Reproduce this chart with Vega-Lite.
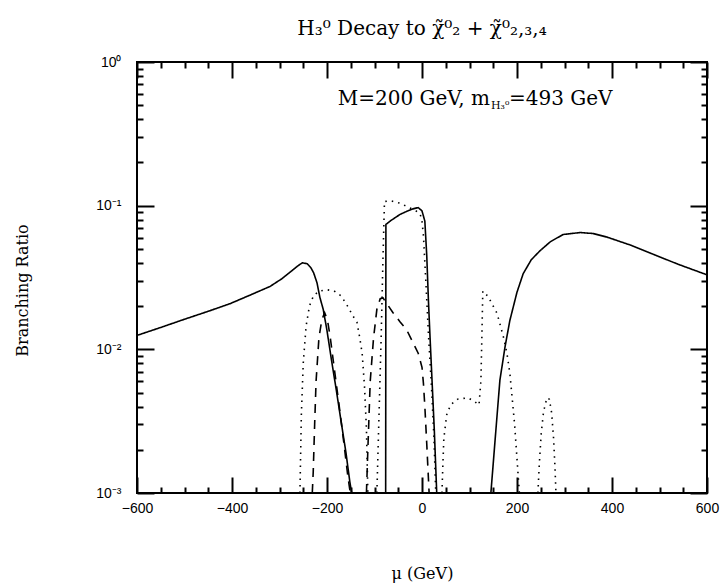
{
  "$schema": "https://vega.github.io/schema/vega-lite/v6.json",
  "width": 570,
  "height": 431,
  "autosize": {"type": "none"},
  "padding": {"left": 137, "top": 62, "right": 20, "bottom": 92},
  "background": "white",
  "config": {
    "view": {"stroke": "black", "strokeWidth": 2},
    "axis": {"domain": false, "grid": false, "ticks": true, "tickColor": "black", "tickWidth": 2, "labelColor": "black", "titleColor": "black"}
  },
  "title": {
    "text": "H₃⁰ Decay to χ̃⁰₂ + χ̃⁰₂,₃,₄",
    "font": "DejaVu Serif",
    "fontSize": 20,
    "fontWeight": "normal",
    "anchor": "middle",
    "offset": 16,
    "color": "black"
  },
  "datasets": {
    "curves": [
      {"channel": "A", "branch": "A1", "mu": -600, "br": 0.0125},
      {"channel": "A", "branch": "A1", "mu": -550, "br": 0.0142},
      {"channel": "A", "branch": "A1", "mu": -500, "br": 0.0162},
      {"channel": "A", "branch": "A1", "mu": -450, "br": 0.0184},
      {"channel": "A", "branch": "A1", "mu": -404, "br": 0.0208},
      {"channel": "A", "branch": "A1", "mu": -360, "br": 0.024},
      {"channel": "A", "branch": "A1", "mu": -320, "br": 0.0274},
      {"channel": "A", "branch": "A1", "mu": -295, "br": 0.031},
      {"channel": "A", "branch": "A1", "mu": -275, "br": 0.035},
      {"channel": "A", "branch": "A1", "mu": -262, "br": 0.038},
      {"channel": "A", "branch": "A1", "mu": -252, "br": 0.04},
      {"channel": "A", "branch": "A1", "mu": -242, "br": 0.0395},
      {"channel": "A", "branch": "A1", "mu": -234, "br": 0.037},
      {"channel": "A", "branch": "A1", "mu": -228, "br": 0.034},
      {"channel": "A", "branch": "A1", "mu": -221, "br": 0.029},
      {"channel": "A", "branch": "A1", "mu": -215, "br": 0.023},
      {"channel": "A", "branch": "A1", "mu": -208, "br": 0.019},
      {"channel": "A", "branch": "A1", "mu": -200, "br": 0.0135},
      {"channel": "A", "branch": "A1", "mu": -190, "br": 0.0082},
      {"channel": "A", "branch": "A1", "mu": -180, "br": 0.0051},
      {"channel": "A", "branch": "A1", "mu": -170, "br": 0.0031},
      {"channel": "A", "branch": "A1", "mu": -160, "br": 0.0019},
      {"channel": "A", "branch": "A1", "mu": -152, "br": 0.0012},
      {"channel": "A", "branch": "A1", "mu": -148, "br": 0.001},
      {"channel": "A", "branch": "A2", "mu": -76.5, "br": 0.001},
      {"channel": "A", "branch": "A2", "mu": -76, "br": 0.074},
      {"channel": "A", "branch": "A2", "mu": -65, "br": 0.079},
      {"channel": "A", "branch": "A2", "mu": -46, "br": 0.087},
      {"channel": "A", "branch": "A2", "mu": -30, "br": 0.092},
      {"channel": "A", "branch": "A2", "mu": -19, "br": 0.095},
      {"channel": "A", "branch": "A2", "mu": -8, "br": 0.097},
      {"channel": "A", "branch": "A2", "mu": 0, "br": 0.092},
      {"channel": "A", "branch": "A2", "mu": 6, "br": 0.078},
      {"channel": "A", "branch": "A2", "mu": 10, "br": 0.045},
      {"channel": "A", "branch": "A2", "mu": 13.5, "br": 0.022},
      {"channel": "A", "branch": "A2", "mu": 17, "br": 0.012},
      {"channel": "A", "branch": "A2", "mu": 21, "br": 0.0062},
      {"channel": "A", "branch": "A2", "mu": 26, "br": 0.0027},
      {"channel": "A", "branch": "A2", "mu": 31, "br": 0.001},
      {"channel": "A", "branch": "A3", "mu": 145, "br": 0.001},
      {"channel": "A", "branch": "A3", "mu": 155, "br": 0.0026},
      {"channel": "A", "branch": "A3", "mu": 164, "br": 0.0061},
      {"channel": "A", "branch": "A3", "mu": 175, "br": 0.0105},
      {"channel": "A", "branch": "A3", "mu": 185, "br": 0.0159},
      {"channel": "A", "branch": "A3", "mu": 200, "br": 0.025},
      {"channel": "A", "branch": "A3", "mu": 213, "br": 0.0336},
      {"channel": "A", "branch": "A3", "mu": 230, "br": 0.042},
      {"channel": "A", "branch": "A3", "mu": 248, "br": 0.0484},
      {"channel": "A", "branch": "A3", "mu": 270, "br": 0.056},
      {"channel": "A", "branch": "A3", "mu": 297, "br": 0.063},
      {"channel": "A", "branch": "A3", "mu": 333, "br": 0.065},
      {"channel": "A", "branch": "A3", "mu": 360, "br": 0.064},
      {"channel": "A", "branch": "A3", "mu": 389, "br": 0.0605},
      {"channel": "A", "branch": "A3", "mu": 440, "br": 0.053},
      {"channel": "A", "branch": "A3", "mu": 486, "br": 0.046},
      {"channel": "A", "branch": "A3", "mu": 540, "br": 0.039},
      {"channel": "A", "branch": "A3", "mu": 600, "br": 0.033},
      {"channel": "B", "branch": "B1", "mu": -231, "br": 0.001},
      {"channel": "B", "branch": "B1", "mu": -229, "br": 0.0014},
      {"channel": "B", "branch": "B1", "mu": -226, "br": 0.003},
      {"channel": "B", "branch": "B1", "mu": -223, "br": 0.006},
      {"channel": "B", "branch": "B1", "mu": -217, "br": 0.012},
      {"channel": "B", "branch": "B1", "mu": -211, "br": 0.016},
      {"channel": "B", "branch": "B1", "mu": -205, "br": 0.018},
      {"channel": "B", "branch": "B1", "mu": -199, "br": 0.016},
      {"channel": "B", "branch": "B1", "mu": -193, "br": 0.012},
      {"channel": "B", "branch": "B1", "mu": -185, "br": 0.0075},
      {"channel": "B", "branch": "B1", "mu": -175, "br": 0.0042},
      {"channel": "B", "branch": "B1", "mu": -165, "br": 0.0023},
      {"channel": "B", "branch": "B1", "mu": -156, "br": 0.0013},
      {"channel": "B", "branch": "B1", "mu": -151, "br": 0.001},
      {"channel": "B", "branch": "B2", "mu": -117, "br": 0.001},
      {"channel": "B", "branch": "B2", "mu": -113, "br": 0.0025},
      {"channel": "B", "branch": "B2", "mu": -109, "br": 0.006},
      {"channel": "B", "branch": "B2", "mu": -102, "br": 0.012},
      {"channel": "B", "branch": "B2", "mu": -95, "br": 0.019},
      {"channel": "B", "branch": "B2", "mu": -88, "br": 0.0225},
      {"channel": "B", "branch": "B2", "mu": -82, "br": 0.0228},
      {"channel": "B", "branch": "B2", "mu": -75, "br": 0.021},
      {"channel": "B", "branch": "B2", "mu": -61, "br": 0.018},
      {"channel": "B", "branch": "B2", "mu": -46, "br": 0.0155},
      {"channel": "B", "branch": "B2", "mu": -32, "br": 0.0136},
      {"channel": "B", "branch": "B2", "mu": -21, "br": 0.0115},
      {"channel": "B", "branch": "B2", "mu": -8, "br": 0.0094},
      {"channel": "B", "branch": "B2", "mu": 0, "br": 0.0075},
      {"channel": "B", "branch": "B2", "mu": 3, "br": 0.0058},
      {"channel": "B", "branch": "B2", "mu": 6, "br": 0.004},
      {"channel": "B", "branch": "B2", "mu": 10, "br": 0.0022},
      {"channel": "B", "branch": "B2", "mu": 15, "br": 0.001},
      {"channel": "C", "branch": "C1", "mu": -257, "br": 0.001},
      {"channel": "C", "branch": "C1", "mu": -254, "br": 0.0035},
      {"channel": "C", "branch": "C1", "mu": -250, "br": 0.008},
      {"channel": "C", "branch": "C1", "mu": -244, "br": 0.0145},
      {"channel": "C", "branch": "C1", "mu": -237, "br": 0.02},
      {"channel": "C", "branch": "C1", "mu": -228, "br": 0.0238},
      {"channel": "C", "branch": "C1", "mu": -215, "br": 0.0255},
      {"channel": "C", "branch": "C1", "mu": -200, "br": 0.026},
      {"channel": "C", "branch": "C1", "mu": -185, "br": 0.0255},
      {"channel": "C", "branch": "C1", "mu": -170, "br": 0.0235},
      {"channel": "C", "branch": "C1", "mu": -156, "br": 0.0198},
      {"channel": "C", "branch": "C1", "mu": -145, "br": 0.017},
      {"channel": "C", "branch": "C1", "mu": -137, "br": 0.0155},
      {"channel": "C", "branch": "C1", "mu": -131, "br": 0.012},
      {"channel": "C", "branch": "C1", "mu": -126, "br": 0.0094},
      {"channel": "C", "branch": "C1", "mu": -121, "br": 0.0055},
      {"channel": "C", "branch": "C1", "mu": -117, "br": 0.0028},
      {"channel": "C", "branch": "C1", "mu": -114, "br": 0.001},
      {"channel": "C", "branch": "C2", "mu": -95, "br": 0.001},
      {"channel": "C", "branch": "C2", "mu": -90, "br": 0.004},
      {"channel": "C", "branch": "C2", "mu": -86, "br": 0.012},
      {"channel": "C", "branch": "C2", "mu": -82, "br": 0.045},
      {"channel": "C", "branch": "C2", "mu": -79, "br": 0.107},
      {"channel": "C", "branch": "C2", "mu": -65, "br": 0.108},
      {"channel": "C", "branch": "C2", "mu": -46, "br": 0.104},
      {"channel": "C", "branch": "C2", "mu": -30, "br": 0.098},
      {"channel": "C", "branch": "C2", "mu": -15, "br": 0.093},
      {"channel": "C", "branch": "C2", "mu": -4, "br": 0.088},
      {"channel": "C", "branch": "C2", "mu": 0, "br": 0.078},
      {"channel": "C", "branch": "C2", "mu": 3, "br": 0.062},
      {"channel": "C", "branch": "C2", "mu": 8, "br": 0.03},
      {"channel": "C", "branch": "C2", "mu": 14, "br": 0.012},
      {"channel": "C", "branch": "C2", "mu": 20, "br": 0.0055},
      {"channel": "C", "branch": "C2", "mu": 25, "br": 0.0025},
      {"channel": "C", "branch": "C2", "mu": 29, "br": 0.001},
      {"channel": "C", "branch": "C3", "mu": 42, "br": 0.001},
      {"channel": "C", "branch": "C3", "mu": 44, "br": 0.0016},
      {"channel": "C", "branch": "C3", "mu": 46, "br": 0.0024},
      {"channel": "C", "branch": "C3", "mu": 52, "br": 0.0035},
      {"channel": "C", "branch": "C3", "mu": 60, "br": 0.0041},
      {"channel": "C", "branch": "C3", "mu": 75, "br": 0.0045},
      {"channel": "C", "branch": "C3", "mu": 97, "br": 0.0046},
      {"channel": "C", "branch": "C3", "mu": 112, "br": 0.0043},
      {"channel": "C", "branch": "C3", "mu": 120, "br": 0.0041},
      {"channel": "C", "branch": "C3", "mu": 124, "br": 0.006},
      {"channel": "C", "branch": "C3", "mu": 126, "br": 0.012},
      {"channel": "C", "branch": "C3", "mu": 128, "br": 0.0254},
      {"channel": "C", "branch": "C3", "mu": 139, "br": 0.0234},
      {"channel": "C", "branch": "C3", "mu": 158, "br": 0.0178},
      {"channel": "C", "branch": "C3", "mu": 172, "br": 0.012},
      {"channel": "C", "branch": "C3", "mu": 179, "br": 0.0093},
      {"channel": "C", "branch": "C3", "mu": 185, "br": 0.0068},
      {"channel": "C", "branch": "C3", "mu": 195, "br": 0.003},
      {"channel": "C", "branch": "C3", "mu": 205, "br": 0.001},
      {"channel": "C", "branch": "C4", "mu": 244, "br": 0.001},
      {"channel": "C", "branch": "C4", "mu": 247, "br": 0.0016},
      {"channel": "C", "branch": "C4", "mu": 251, "br": 0.0026},
      {"channel": "C", "branch": "C4", "mu": 256, "br": 0.0037},
      {"channel": "C", "branch": "C4", "mu": 263, "br": 0.0046},
      {"channel": "C", "branch": "C4", "mu": 268, "br": 0.0045},
      {"channel": "C", "branch": "C4", "mu": 273, "br": 0.0036},
      {"channel": "C", "branch": "C4", "mu": 277, "br": 0.0024},
      {"channel": "C", "branch": "C4", "mu": 280, "br": 0.0015},
      {"channel": "C", "branch": "C4", "mu": 282, "br": 0.001}
    ],
    "note": [{"mu": 143, "br": 0.55}]
  },
  "resolve": {"axis": {"x": "independent", "y": "independent"}},
  "layer": [
    {
      "data": {"name": "curves"},
      "mark": {"type": "line", "color": "black", "strokeWidth": 1.6, "clip": true},
      "encoding": {
        "x": {
          "field": "mu", "type": "quantitative",
          "scale": {"domain": [-600, 600], "nice": false, "zero": false},
          "axis": {
            "orient": "bottom",
            "tickColor": "#000000",
            "values": [-600,-550,-500,-450,-400,-350,-300,-250,-200,-150,-100,-50,0,50,100,150,200,250,300,350,400,450,500,550,600],
            "labelExpr": "datum.value % 200 === 0 ? replace(format(datum.value, 'd'), '-', '−') : ''",
            "tickSize": {"condition": {"test": "datum.value % 200 === 0", "value": -16}, "value": -6},
            "labelPadding": 24,
            "labelFont": "Liberation Sans",
            "labelFontSize": 14,
            "labelFlush": false,
            "labelOverlap": false,
            "title": "μ (GeV)",
            "titleFont": "DejaVu Serif",
            "titleFontSize": 16,
            "titleFontWeight": "normal",
            "titleY": 72
          }
        },
        "y": {
          "field": "br", "type": "quantitative",
          "scale": {"type": "log", "domain": [0.001, 1], "nice": false},
          "axis": {
            "orient": "left",
            "tickColor": "#000000",
            "values": [0.001,0.002,0.003,0.004,0.005,0.006,0.007,0.008,0.009,0.01,0.02,0.03,0.04,0.05,0.06,0.07,0.08,0.09,0.1,0.2,0.3,0.4,0.5,0.6,0.7,0.8,0.9,1],
            "labelExpr": "datum.value > 0.99 ? '10⁰' : abs(datum.value - 0.1) < 1e-9 ? '10⁻¹' : abs(datum.value - 0.01) < 1e-10 ? '10⁻²' : abs(datum.value - 0.001) < 1e-11 ? '10⁻³' : ''",
            "tickSize": {"condition": {"test": "abs(log(datum.value)/LN10 - round(log(datum.value)/LN10)) < 0.001", "value": -17}, "value": -6},
            "labelPadding": 33,
            "labelFont": "Liberation Sans",
            "labelFontSize": 14,
            "labelFlush": false,
            "labelOverlap": false,
            "title": "Branching Ratio",
            "titleFont": "DejaVu Serif",
            "titleFontSize": 16,
            "titleFontWeight": "normal",
            "titleX": -115,
            "titleY": 228,
            "titleBaseline": "middle"
          }
        },
        "detail": {"field": "branch", "type": "nominal"},
        "strokeDash": {
          "field": "channel", "type": "nominal",
          "scale": {"domain": ["A", "B", "C"], "range": [[1, 0], [9, 7], [1.5, 5]]},
          "legend": null
        }
      }
    },
    {
      "data": {"name": "curves"},
      "mark": {"type": "point", "opacity": 0},
      "encoding": {
        "x": {
          "field": "mu", "type": "quantitative",
          "axis": {
            "orient": "top",
            "tickColor": "#000000",
            "values": [-600,-550,-500,-450,-400,-350,-300,-250,-200,-150,-100,-50,0,50,100,150,200,250,300,350,400,450,500,550,600],
            "labels": false,
            "tickSize": {"condition": {"test": "datum.value % 200 === 0", "value": -16}, "value": -6},
            "title": null
          }
        },
        "y": {
          "field": "br", "type": "quantitative",
          "axis": {
            "orient": "right",
            "tickColor": "#000000",
            "values": [0.001,0.002,0.003,0.004,0.005,0.006,0.007,0.008,0.009,0.01,0.02,0.03,0.04,0.05,0.06,0.07,0.08,0.09,0.1,0.2,0.3,0.4,0.5,0.6,0.7,0.8,0.9,1],
            "labels": false,
            "tickSize": {"condition": {"test": "abs(log(datum.value)/LN10 - round(log(datum.value)/LN10)) < 0.001", "value": -17}, "value": -6},
            "title": null
          }
        }
      }
    },
    {
      "data": {"name": "note"},
      "mark": {"type": "text", "align": "right", "baseline": "middle", "font": "DejaVu Serif", "fontSize": 20, "color": "black"},
      "encoding": {
        "x": {"field": "mu", "type": "quantitative", "axis": null},
        "y": {"field": "br", "type": "quantitative", "axis": null},
        "text": {"value": "M=200 GeV, m"}
      }
    },
    {
      "data": {"name": "note"},
      "mark": {"type": "text", "align": "left", "baseline": "middle", "font": "DejaVu Serif", "fontSize": 11, "dy": 7, "dx": 1, "color": "black"},
      "encoding": {
        "x": {"field": "mu", "type": "quantitative", "axis": null},
        "y": {"field": "br", "type": "quantitative", "axis": null},
        "text": {"value": "H₃⁰"}
      }
    },
    {
      "data": {"name": "note"},
      "mark": {"type": "text", "align": "left", "baseline": "middle", "font": "DejaVu Serif", "fontSize": 20, "dx": 19, "color": "black"},
      "encoding": {
        "x": {"field": "mu", "type": "quantitative", "axis": null},
        "y": {"field": "br", "type": "quantitative", "axis": null},
        "text": {"value": "=493 GeV"}
      }
    }
  ]
}
